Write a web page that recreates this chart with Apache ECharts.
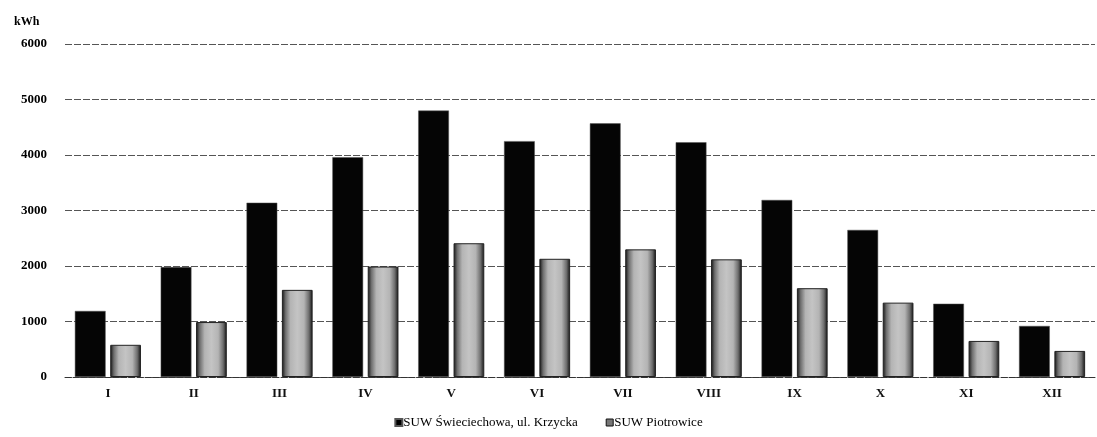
<!DOCTYPE html>
<html><head><meta charset="utf-8">
<script src="https://cdn.jsdelivr.net/npm/echarts@6/dist/echarts.min.js"></script>
<style>html,body{margin:0;padding:0;background:#fff}#c{width:1097px;height:437px}</style>
</head><body><div id="c"></div>
<script>
const categories = ['I','II','III','IV','V','VI','VII','VIII','IX','X','XI','XII'];
const seriesNames = ['SUW Świeciechowa, ul. Krzycka','SUW Piotrowice'];
const krzycka = [1190,1980,3140,3960,4800,4250,4570,4230,3190,2650,1320,920];
const piotrowice = [580,990,1570,1990,2410,2130,2300,2120,1600,1340,650,470];
const yTicks = [0,1000,2000,3000,4000,5000,6000];

const FONT = '"Liberation Serif", "DejaVu Serif", serif';
const chart = echarts.init(document.getElementById('c'));
const grayFill = new echarts.graphic.LinearGradient(0,0,1,0,[
  {offset:0,color:'#111'},{offset:0.12,color:'#6e6e6e'},
  {offset:0.28,color:'#b4b4b4'},{offset:0.5,color:'#c4c4c4'},
  {offset:0.72,color:'#b4b4b4'},{offset:0.88,color:'#6e6e6e'},
  {offset:1,color:'#111'}]);
chart.setOption({
  animation:false,
  backgroundColor:'#fff',
  title:{text:'kWh',left:9,top:11,textStyle:{fontFamily:FONT,fontSize:12,fontWeight:'bold',color:'#000'}},
  grid:{left:65,right:2,top:44,bottom:60},
  legend:{
    data:[{name:seriesNames[0],itemStyle:{color:'#000'}},{name:seriesNames[1],itemStyle:{color:'#777',borderColor:'#111',borderWidth:1}}],
    top:411,left:'center',icon:'rect',itemWidth:7,itemHeight:7,itemGap:28,
    textStyle:{fontFamily:FONT,fontSize:13,color:'#000',padding:[0,0,0,-4]}
  },
  xAxis:{
    type:'category',data:categories,
    axisLine:{show:true,lineStyle:{color:'#333',type:[6,2],width:1}},
    axisTick:{show:false},
    axisLabel:{fontFamily:FONT,fontSize:13,fontWeight:'bold',color:'#111',margin:10}
  },
  yAxis:{
    type:'value',min:yTicks[0],max:yTicks[yTicks.length-1],interval:1000,
    axisLine:{show:false},axisTick:{show:false},
    axisLabel:{fontFamily:FONT,fontSize:13,fontWeight:'bold',color:'#000',margin:18,formatter:v=>String(v)},
    splitLine:{lineStyle:{color:'#555',type:[7,2],width:1}}
  },
  series:[
    {name:seriesNames[0],type:'bar',data:krzycka,barGap:'15%',barCategoryGap:'23%',
     itemStyle:{color:'#050505',borderColor:'#555',borderWidth:0.5}},
    {name:seriesNames[1],type:'bar',data:piotrowice,
     itemStyle:{color:grayFill,borderColor:'#222',borderWidth:1}}
  ]
});
</script></body></html>
